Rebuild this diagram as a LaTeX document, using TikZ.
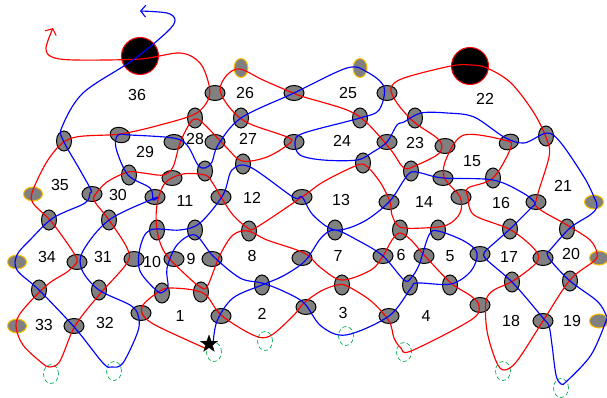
\documentclass[tikz,border=0pt]{standalone}
\usepackage{fontspec}
\setmainfont{Liberation Sans}
\usetikzlibrary{shapes.geometric,arrows.meta}
\definecolor{goldc}{HTML}{FFC000}
\definecolor{greenc}{HTML}{00B050}
\tikzset{
  ell/.style={ellipse,draw=black,fill=gray,line width=1pt,inner sep=0pt},
  hn/.style={ell,minimum width=20pt,minimum height=15pt},
  vn/.style={ell,minimum width=15pt,minimum height=20pt},
  goldh/.style={hn,draw=goldc,minimum width=19pt,minimum height=14pt},
  goldv/.style={vn,draw=goldc,minimum width=14pt,minimum height=19pt},
  hole/.style={circle,draw=red,fill=black,line width=1pt,minimum size=37pt,inner sep=0pt},
  mark0/.style={ellipse,draw=greenc,dash pattern=on 4pt off 2.5pt,line width=0.7pt,minimum width=15pt,minimum height=19pt,inner sep=0pt},
  num/.style={font=\fontsize{16}{16}\selectfont,inner sep=0pt,text=black},
  strand/.style={line width=1.15pt,line join=round},
  tipb/.style={-{Straight Barb[length=5pt,width=12pt,line width=1.1pt]}},
}
\begin{document}
\begin{tikzpicture}[x=1pt,y=-1pt]
\useasboundingbox (0,0) rectangle (607,398);
% green dashed
\foreach \x/\y in {51/374,114/371,214/352,265/341,346/336,404/352,503/371,561/388}
  \node[mark0] (m\x x\y) at (\x,\y) {};
% gray crossings
\foreach \x/\y in {215/93,294/93,387/93,174/142,215/142,294/142,387/142,445/146,172/178,443/178,92/194,155/197,221/197,302/197,389/202,461/197,536/202,77/262,134/259,174/259,212/259,302/258,383/256,424/256,480/254,543/258,74/326,141/313,221/316,306/307,389/316,480/305,543/321}
  \node[hn] (n\x x\y) at (\x,\y) {};
\foreach \x/\y in {195/118,241/118,360/118,415/118,64/141,546/136,205/171,243/164,129/175,363/163,411/171,493/178,49/220,109/220,157/230,195/230,249/231,335/230,400/230,438/230,510/229,567/229,39/290,99/290,162/293,201/292,262/285,342/285,410/285,450/285,512/282,570/281}
  \node[vn] (n\x x\y) at (\x,\y) {};
\node[hn,rotate=-15] (n120x135) at (120,135) {};
\node[hn,rotate=20] (n509x142) at (509,142) {};
% gold
\foreach \x/\y in {241/68,360/68}
  \node[goldv] (g\x x\y) at (\x,\y) {};
\foreach \x/\y in {33/194,17/262,17/326,594/202,599/258,599/321}
  \node[goldh] (g\x x\y) at (\x,\y) {};
% black
\node[hole] (h1) at (140,56) {};
\node[hole] (h2) at (470,66) {};
% labels
\foreach \t/\x/\y in {36/137/95,26/245/93,25/348/93,22/485/99,28/195/139,27/248/139,29/145/152,24/342/141,23/415/143,15/472/161,35/60/185,30/118/195,11/185/201,12/252/198,13/341/200,14/424/202,16/501/203,21/563/186,34/47/257,31/103/257,10/152/262,9/191/259,8/252/256,7/338/256,6/401/255,5/450/256,17/509/257,20/571/254,33/44/325,32/105/323,1/180/316,2/262/314,3/343/313,4/426/316,18/511/321,19/572/321}
  \node[num] (l\t) at (\x,\y) {\t};
% red strand
\draw[strand,red,tipb] plot[smooth,tension=0.55] coordinates {
 (207,349) (157,326) (143,315) (143,305) (157,293) (170,288) (203,293) (221,315) (253,335) (270,336) (293,316) (304,303) (321,291) (337,285) (347,286) (371,301) (389,321) (394,338) (401,348) (411,351) (471,320) (479,306) (471,296) (451,283) (425,256) (411,240) (400,233) (392,240) (383,256) (371,270) (342,280) (321,268) (304,253) (267,240) (248,231) (233,235) (220,255) (208,285) (202,288) (187,276) (165,253) (n157x230) (157,205) (165,183) (183,174) (205,175) (212,182) (n221x197) (233,215) (248,228) (257,227) (n302x197) (323,182) (353,167) (365,165) (380,182) (390,202) (392,215) (400,227) (423,228) (447,225) (460,213) (460,197) (444,177) (447,157) (464,135) (504,140) (511,147) (493,178) (468,188) (468,197) (474,215) (511,230) (536,251) (536,263) (513,281) (494,290) (486,301) (487,331) (496,361) (504,370) (517,361) (n543x321) (570,280) (594,261) (597,253) (590,240) (567,225) (538,208) (537,197) (549,157) (547,140) (534,113) (511,83) (487,68) (471,65) (451,66) (404,78) (391,88) (397,103) (414,122) (437,138) (442,147) (437,155) (417,165) (404,168) (391,150) (367,123) (347,110) (304,97) (293,93) (263,80) (240,69) (227,75) (220,90) (230,108) (248,123) (287,137) (290,143) (267,157) (242,161) (227,148) (207,127) (197,119) (190,123) (180,143) (173,167) (163,175) (143,173) (128,172) (107,182) (95,195) (95,202) (n109x220) (127,248) (127,263) (99,295) (75,326) (60,361) (50,367) (42,363) (23,345) (16,326) (22,311) (47,285) (67,272) (n77x262) (75,255) (65,240) (50,220) (33,203) (33,190) (50,157) (72,138) (120,134) (160,125) (195,114) (208,100) (209,85) (200,63) (180,53) (140,59) (75,60) (52,57) (46,48) (53,28)};
% blue strand
\draw[strand,blue,tipb] plot[smooth,tension=0.55] coordinates {
 (213,345) (217,321) (233,298) (n262x285) (283,276) (305,261) (321,238) (n335x230) (359,241) (n383x256) (404,280) (411,278) (419,265) (429,235) (438,231) (464,241) (477,253) (471,271) (451,284) (417,283) (411,288) (n389x316) (346,335) (321,326) (304,303) (283,291) (262,283) (240,278) (213,256) (195,235) (177,245) (167,268) (168,286) (163,292) (157,291) (140,271) (140,248) (150,230) (180,230) (200,223) (223,195) (232,170) (250,167) (293,197) (302,197) (313,215) (n335x230) (363,222) (n389x202) (404,180) (411,172) (421,173) (n443x178) (493,180) (523,193) (535,203) (531,208) (n510x229) (492,245) (484,253) (487,260) (513,283) (543,318) (549,326) (552,345) (556,375) (561,384) (567,381) (591,355) (606,321) (606,315) (597,301) (n570x281) (551,261) (547,253) (550,250) (570,228) (590,215) (597,207) (594,197) (584,177) (561,143) (547,133) (524,143) (504,137) (474,117) (447,113) (421,113) (404,122) (397,125) (387,142) (373,152) (357,160) (323,160) (300,155) (295,142) (304,133) (n360x118) (379,110) (384,87) (367,72) (347,68) (n294x93) (n241x118) (218,145) (212,162) (205,168) (198,165) (187,145) (173,138) (130,135) (118,135) (116,148) (128,175) (150,188) (153,200) (155,198) (n109x220) (83,251) (82,270) (n99x290) (130,305) (138,315) (138,331) (123,363) (112,367) (103,363) (75,328) (n39x290) (17,270) (17,255) (30,240) (53,218) (85,203) (90,193) (91,190) (80,170) (63,140) (62,127) (83,93) (133,60) (167,32) (175,20) (167,13) (140,11)};
% star
\node[star,star points=5,star point ratio=2.5,fill=black,draw=black,inner sep=0pt,minimum size=18pt,line width=0.3pt] (st) at (209,344) {};
\end{tikzpicture}
\end{document}
